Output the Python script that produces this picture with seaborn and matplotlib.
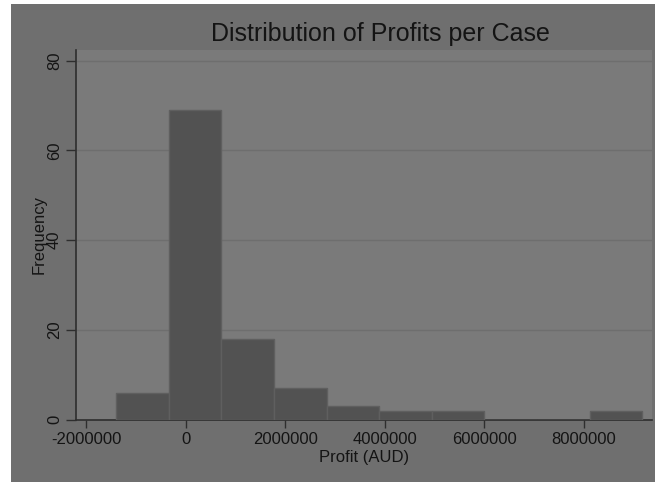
import numpy as np
import matplotlib
matplotlib.use("Agg")
import matplotlib.pyplot as plt
import seaborn as sns
from matplotlib.patches import Rectangle

sns.set_theme(style="white")
plt.rcParams['font.family'] = ['Liberation Sans', 'DejaVu Sans']

# Histogram data (bin edges in AUD, count per bin)
bin_edges = [-1393000, -336000, 720000, 1777000, 2833000, 3890000,
             4946000, 6003000, 7059000, 8116000, 9172000]
counts = [6, 69, 18, 7, 3, 2, 2, 0, 0, 2]
x_ticks = [-2000000, 0, 2000000, 4000000, 6000000, 8000000]
y_ticks = [0, 20, 40, 60, 80]

bin_mids = [(a + b) / 2 for a, b in zip(bin_edges[:-1], bin_edges[1:])]

W, H = 655, 482
fig = plt.figure(figsize=(W / 100, H / 100), dpi=100, facecolor='white')

# grey graph region (small white strip at left and top)
fig.patches.append(Rectangle((11 / W, 0), 1 - 11 / W, 1 - 4 / H,
                             transform=fig.transFigure, facecolor='#6f6f6f',
                             edgecolor='none', zorder=-10))

ax = fig.add_axes([76 / W, (H - 419.5) / H, (652 - 76) / W, (419.5 - 50) / H])
ax.set_zorder(2)
ax.set_facecolor('#7a7a7a')

sns.histplot(x=bin_mids, weights=counts, bins=bin_edges, ax=ax,
             color='#525252', edgecolor='#5f5f5f', linewidth=1, alpha=1,
             zorder=3)

ax.set_xlim(-2200000, 9367000)
ax.set_ylim(0, 82.4)
ax.set_xticks(x_ticks)
ax.set_xticklabels([str(t) for t in x_ticks])
ax.set_yticks(y_ticks)
ax.set_yticklabels([str(t) for t in y_ticks], rotation=90, va='center')

for y in y_ticks[1:]:
    ax.axhline(y, color='#6e6e6e', linewidth=1, zorder=1)

for s in ['top', 'right']:
    ax.spines[s].set_visible(False)
for s in ['left', 'bottom']:
    ax.spines[s].set_color('#2e2e2e')
    ax.spines[s].set_linewidth(1.2)

ax.tick_params(axis='x', which='major', direction='out', length=6, width=1,
               color='#2e2e2e', labelsize=12, labelcolor='#141414', pad=3,
               bottom=True)
ax.tick_params(axis='y', which='major', direction='out', length=7, width=1,
               color='#2e2e2e', labelsize=12, labelcolor='#141414', pad=3,
               left=True)

ax.set_xlabel('Profit (AUD)', fontsize=12, color='#141414', labelpad=2)
ax.set_ylabel('Frequency', fontsize=12, color='#141414', labelpad=0)

fig.text(380 / W, 1 - 34 / H, 'Distribution of Profits per Case',
         ha='center', va='center', fontsize=18, color='#141414')

fig.savefig('out.png', dpi=100, facecolor=fig.get_facecolor())
